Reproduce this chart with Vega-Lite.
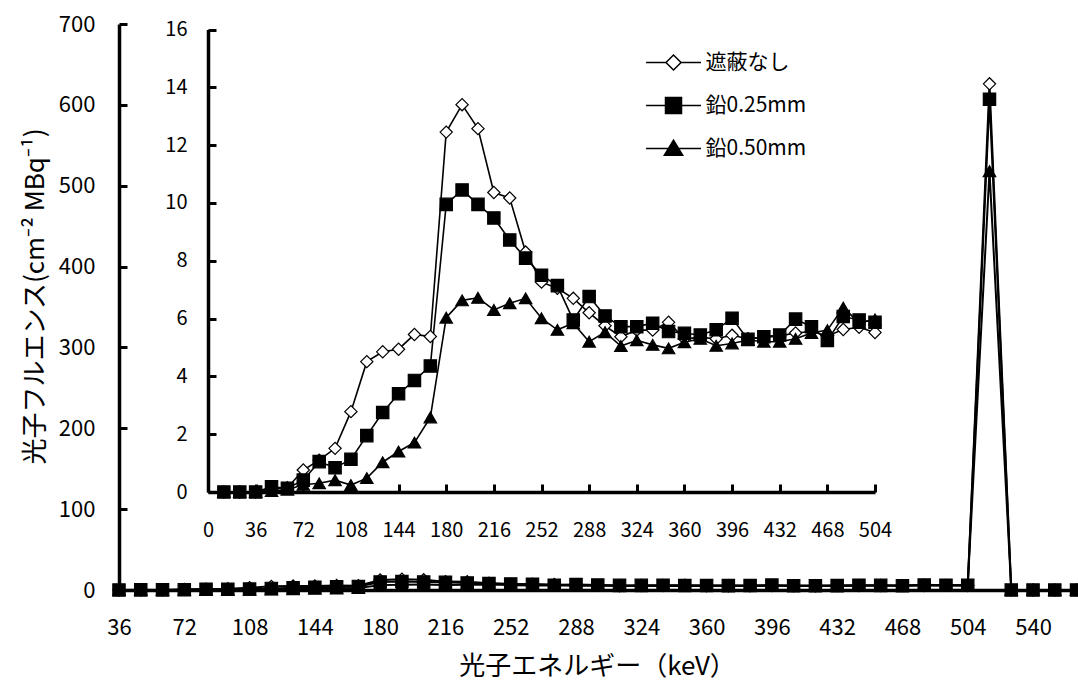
{
"$schema": "https://vega.github.io/schema/vega-lite/v6.json",
"width": 959,
"height": 566,
"autosize": {"type": "none"},
"padding": {"left": 119, "top": 24, "right": 0, "bottom": 92},
"background": "white",
"config": {
  "view": {"stroke": null},
  "font": "Noto Sans CJK JP",
  "axis": {"domainColor": "black", "tickColor": "black", "labelColor": "black", "titleColor": "black", "grid": false,
    "labelFont": "Noto Sans CJK JP", "titleFont": "Noto Sans CJK JP", "titleFontWeight": "normal",
    "domainWidth": 3.5, "tickWidth": 3, "labelFlush": false, "labelOverlap": false}
},
"data": {"values": [
{"e":12,"s":"遮蔽なし","v":0},{"e":24,"s":"遮蔽なし","v":0},{"e":36,"s":"遮蔽なし","v":0},{"e":48,"s":"遮蔽なし","v":0.1},{"e":60,"s":"遮蔽なし","v":0.15},{"e":72,"s":"遮蔽なし","v":0.76},{"e":84,"s":"遮蔽なし","v":1.1},{"e":96,"s":"遮蔽なし","v":1.51},{"e":108,"s":"遮蔽なし","v":2.78},{"e":120,"s":"遮蔽なし","v":4.51},{"e":132,"s":"遮蔽なし","v":4.85},{"e":144,"s":"遮蔽なし","v":4.94},{"e":156,"s":"遮蔽なし","v":5.45},{"e":168,"s":"遮蔽なし","v":5.38},{"e":180,"s":"遮蔽なし","v":12.45},{"e":192,"s":"遮蔽なし","v":13.4},{"e":204,"s":"遮蔽なし","v":12.57},{"e":216,"s":"遮蔽なし","v":10.36},{"e":228,"s":"遮蔽なし","v":10.17},{"e":240,"s":"遮蔽なし","v":8.3},{"e":252,"s":"遮蔽なし","v":7.26},{"e":264,"s":"遮蔽なし","v":7.05},{"e":276,"s":"遮蔽なし","v":6.7},{"e":288,"s":"遮蔽なし","v":6.2},{"e":300,"s":"遮蔽なし","v":5.75},{"e":312,"s":"遮蔽なし","v":5.37},{"e":324,"s":"遮蔽なし","v":5.6},{"e":336,"s":"遮蔽なし","v":5.6},{"e":348,"s":"遮蔽なし","v":5.87},{"e":360,"s":"遮蔽なし","v":5.3},{"e":372,"s":"遮蔽なし","v":5.35},{"e":384,"s":"遮蔽なし","v":5.3},{"e":396,"s":"遮蔽なし","v":5.42},{"e":408,"s":"遮蔽なし","v":5.3},{"e":420,"s":"遮蔽なし","v":5.35},{"e":432,"s":"遮蔽なし","v":5.4},{"e":444,"s":"遮蔽なし","v":5.5},{"e":456,"s":"遮蔽なし","v":5.55},{"e":468,"s":"遮蔽なし","v":5.4},{"e":480,"s":"遮蔽なし","v":5.62},{"e":492,"s":"遮蔽なし","v":5.7},{"e":504,"s":"遮蔽なし","v":5.52},{"e":516,"s":"遮蔽なし","v":626},{"e":528,"s":"遮蔽なし","v":0},{"e":540,"s":"遮蔽なし","v":0},{"e":552,"s":"遮蔽なし","v":0},{"e":564,"s":"遮蔽なし","v":0},
{"e":12,"s":"鉛0.25mm","v":0},{"e":24,"s":"鉛0.25mm","v":0},{"e":36,"s":"鉛0.25mm","v":0},{"e":48,"s":"鉛0.25mm","v":0.18},{"e":60,"s":"鉛0.25mm","v":0.13},{"e":72,"s":"鉛0.25mm","v":0.41},{"e":84,"s":"鉛0.25mm","v":1.05},{"e":96,"s":"鉛0.25mm","v":0.84},{"e":108,"s":"鉛0.25mm","v":1.13},{"e":120,"s":"鉛0.25mm","v":1.95},{"e":132,"s":"鉛0.25mm","v":2.75},{"e":144,"s":"鉛0.25mm","v":3.4},{"e":156,"s":"鉛0.25mm","v":3.86},{"e":168,"s":"鉛0.25mm","v":4.36},{"e":180,"s":"鉛0.25mm","v":9.95},{"e":192,"s":"鉛0.25mm","v":10.45},{"e":204,"s":"鉛0.25mm","v":9.95},{"e":216,"s":"鉛0.25mm","v":9.48},{"e":228,"s":"鉛0.25mm","v":8.72},{"e":240,"s":"鉛0.25mm","v":8.09},{"e":252,"s":"鉛0.25mm","v":7.5},{"e":264,"s":"鉛0.25mm","v":7.14},{"e":276,"s":"鉛0.25mm","v":5.95},{"e":288,"s":"鉛0.25mm","v":6.76},{"e":300,"s":"鉛0.25mm","v":6.09},{"e":312,"s":"鉛0.25mm","v":5.72},{"e":324,"s":"鉛0.25mm","v":5.72},{"e":336,"s":"鉛0.25mm","v":5.84},{"e":348,"s":"鉛0.25mm","v":5.55},{"e":360,"s":"鉛0.25mm","v":5.49},{"e":372,"s":"鉛0.25mm","v":5.43},{"e":384,"s":"鉛0.25mm","v":5.61},{"e":396,"s":"鉛0.25mm","v":6.01},{"e":408,"s":"鉛0.25mm","v":5.28},{"e":420,"s":"鉛0.25mm","v":5.37},{"e":432,"s":"鉛0.25mm","v":5.43},{"e":444,"s":"鉛0.25mm","v":5.98},{"e":456,"s":"鉛0.25mm","v":5.72},{"e":468,"s":"鉛0.25mm","v":5.24},{"e":480,"s":"鉛0.25mm","v":6.07},{"e":492,"s":"鉛0.25mm","v":5.95},{"e":504,"s":"鉛0.25mm","v":5.87},{"e":516,"s":"鉛0.25mm","v":607},{"e":528,"s":"鉛0.25mm","v":0},{"e":540,"s":"鉛0.25mm","v":0},{"e":552,"s":"鉛0.25mm","v":0},{"e":564,"s":"鉛0.25mm","v":0},
{"e":12,"s":"鉛0.50mm","v":0},{"e":24,"s":"鉛0.50mm","v":0},{"e":36,"s":"鉛0.50mm","v":0},{"e":48,"s":"鉛0.50mm","v":0.03},{"e":60,"s":"鉛0.50mm","v":0.08},{"e":72,"s":"鉛0.50mm","v":0.25},{"e":84,"s":"鉛0.50mm","v":0.3},{"e":96,"s":"鉛0.50mm","v":0.41},{"e":108,"s":"鉛0.50mm","v":0.24},{"e":120,"s":"鉛0.50mm","v":0.48},{"e":132,"s":"鉛0.50mm","v":1.03},{"e":144,"s":"鉛0.50mm","v":1.4},{"e":156,"s":"鉛0.50mm","v":1.71},{"e":168,"s":"鉛0.50mm","v":2.58},{"e":180,"s":"鉛0.50mm","v":6.03},{"e":192,"s":"鉛0.50mm","v":6.63},{"e":204,"s":"鉛0.50mm","v":6.72},{"e":216,"s":"鉛0.50mm","v":6.3},{"e":228,"s":"鉛0.50mm","v":6.53},{"e":240,"s":"鉛0.50mm","v":6.7},{"e":252,"s":"鉛0.50mm","v":6.01},{"e":264,"s":"鉛0.50mm","v":5.61},{"e":276,"s":"鉛0.50mm","v":5.84},{"e":288,"s":"鉛0.50mm","v":5.2},{"e":300,"s":"鉛0.50mm","v":5.53},{"e":312,"s":"鉛0.50mm","v":5.05},{"e":324,"s":"鉛0.50mm","v":5.25},{"e":336,"s":"鉛0.50mm","v":5.09},{"e":348,"s":"鉛0.50mm","v":4.97},{"e":360,"s":"鉛0.50mm","v":5.18},{"e":372,"s":"鉛0.50mm","v":5.3},{"e":384,"s":"鉛0.50mm","v":5.06},{"e":396,"s":"鉛0.50mm","v":5.14},{"e":408,"s":"鉛0.50mm","v":5.26},{"e":420,"s":"鉛0.50mm","v":5.2},{"e":432,"s":"鉛0.50mm","v":5.2},{"e":444,"s":"鉛0.50mm","v":5.3},{"e":456,"s":"鉛0.50mm","v":5.5},{"e":468,"s":"鉛0.50mm","v":5.6},{"e":480,"s":"鉛0.50mm","v":6.38},{"e":492,"s":"鉛0.50mm","v":5.85},{"e":504,"s":"鉛0.50mm","v":5.97},{"e":516,"s":"鉛0.50mm","v":518},{"e":528,"s":"鉛0.50mm","v":0},{"e":540,"s":"鉛0.50mm","v":0},{"e":552,"s":"鉛0.50mm","v":0},{"e":564,"s":"鉛0.50mm","v":0}
]},
"layer": [
  {
    "transform": [{"filter": "datum.e >= 36"}],
    "encoding": {
      "x": {"field": "e", "type": "quantitative",
        "scale": {"domain": [36, 564.8], "nice": false, "zero": false},
        "axis": {"orient": "bottom", "values": [36,72,108,144,180,216,252,288,324,360,396,432,468,504,540],
          "ticks": false, "domainWidth": 3.5, "labelPadding": 37, "labelBaseline": "middle", "labelFontSize": 22,
          "title": "光子エネルギー（keV）", "titleFontSize": 26, "titleX": 478, "titleY": 76,
          "titleBaseline": "middle", "titleAlign": "center"}},
      "y": {"field": "v", "type": "quantitative",
        "scale": {"domain": [0, 700], "nice": false},
        "axis": {"orient": "left", "values": [0,100,200,300,400,500,600,700], "domainWidth": 3.5, "tickWidth": 3,
          "tickSize": -8, "labelPadding": 32, "labelFontSize": 22, "labelBaseline": "middle",
          "title": "光子フルエンス(cm⁻² MBq⁻¹)", "titleFontSize": 26, "titleX": -84, "titleY": 272,
          "titleAngle": -90, "titleBaseline": "middle", "titleAlign": "center"}}
    },
    "layer": [
      {"mark": {"type": "line", "color": "black", "strokeWidth": 2},
       "encoding": {"detail": {"field": "s", "type": "nominal"}}},
      {"mark": {"type": "point", "opacity": 1, "stroke": "black", "strokeWidth": 1.2},
       "encoding": {
         "shape": {"field": "s", "type": "nominal", "scale": {"domain": ["遮蔽なし","鉛0.25mm","鉛0.50mm"], "range": ["diamond","square","triangle-up"]}, "legend": null},
         "fill": {"field": "s", "type": "nominal", "scale": {"domain": ["遮蔽なし","鉛0.25mm","鉛0.50mm"], "range": ["white","black","black"]}, "legend": null},
         "size": {"field": "s", "type": "nominal", "scale": {"domain": ["遮蔽なし","鉛0.25mm","鉛0.50mm"], "range": [150,155,160]}, "legend": null}
       }}
    ]
  },
  {
    "transform": [{"filter": "datum.e <= 504"}],
    "encoding": {
      "x": {"field": "e", "type": "quantitative",
        "scale": {"domain": [0, 504], "range": [89, 756], "nice": false, "zero": false},
        "axis": {"orient": "bottom", "offset": -98, "values": [0,36,72,108,144,180,216,252,288,324,360,396,432,468,504],
          "domainWidth": 3.5, "tickWidth": 3,
          "tickSize": -8, "labelPadding": 46, "labelBaseline": "middle", "labelFontSize": 20, "title": null}},
      "y": {"field": "v", "type": "quantitative",
        "scale": {"domain": [0, 16], "range": [468, 5.5], "nice": false},
        "axis": {"orient": "left", "offset": -89, "values": [0,2,4,6,8,10,12,14,16],
          "domainWidth": 3.5, "tickWidth": 3,
          "tickSize": -8, "labelPadding": 29, "labelFontSize": 20, "labelBaseline": "middle", "title": null}}
    },
    "layer": [
      {"mark": {"type": "line", "color": "black", "strokeWidth": 1.6},
       "encoding": {"detail": {"field": "s", "type": "nominal"}}},
      {"mark": {"type": "point", "opacity": 1, "stroke": "black", "strokeWidth": 1.2},
       "encoding": {
         "shape": {"field": "s", "type": "nominal", "scale": {"domain": ["遮蔽なし","鉛0.25mm","鉛0.50mm"], "range": ["diamond","square","triangle-up"]}, "legend": null},
         "fill": {"field": "s", "type": "nominal", "scale": {"domain": ["遮蔽なし","鉛0.25mm","鉛0.50mm"], "range": ["white","black","black"]}, "legend": null},
         "size": {"field": "s", "type": "nominal", "scale": {"domain": ["遮蔽なし","鉛0.25mm","鉛0.50mm"], "range": [150,155,160]}, "legend": null}
       }}
    ]
  },
  {
    "mark": {"type": "point", "opacity": 0, "stroke": "black", "strokeWidth": 1.5},
    "encoding": {
      "shape": {"field": "s", "type": "nominal",
        "scale": {"domain": ["遮蔽なし","鉛0.25mm","鉛0.50mm"],
          "range": ["M-3.44,0L-0.94,0M0.94,0L3.44,0M-0.94,0L0,-0.94L0.94,0L0,0.94Z",
                    "M-3.44,0L3.44,0M-1,-1L1,-1L1,1L-1,1Z",
                    "M-3.44,0L3.44,0M0,-1.05L1.15,0.85L-1.15,0.85Z"]},
        "legend": {"title": null, "orient": "none", "legendX": 524.5, "legendY": 28, "symbolSize": 256, "symbolOffset": 19.5,
          "labelOffset": 21.5, "labelFontSize": 21, "labelFont": "Noto Sans CJK JP", "labelColor": "black", "rowPadding": 20,
          "padding": 0, "symbolStrokeWidth": 1.5, "symbolStrokeColor": "black", "labelLimit": 300, "symbolOpacity": 1,
          "encode": {"symbols": {"update": {"stroke": {"value": "black"}, "strokeWidth": {"value": 1.5}, "opacity": {"value": 1}, "strokeOpacity": {"value": 1}}}}}},
      "fill": {"field": "s", "type": "nominal",
        "scale": {"domain": ["遮蔽なし","鉛0.25mm","鉛0.50mm"], "range": ["white","black","black"]},
        "legend": {"title": null, "orient": "none", "legendX": 524.5, "legendY": 28, "symbolSize": 256, "symbolOffset": 19.5,
          "labelOffset": 21.5, "labelFontSize": 21, "labelFont": "Noto Sans CJK JP", "labelColor": "black", "rowPadding": 20,
          "padding": 0, "symbolStrokeWidth": 1.5, "symbolStrokeColor": "black", "labelLimit": 300, "symbolOpacity": 1,
          "encode": {"symbols": {"update": {"stroke": {"value": "black"}, "strokeWidth": {"value": 1.5}, "opacity": {"value": 1}, "strokeOpacity": {"value": 1}}}}}}
    }
  }
],
"resolve": {
  "scale": {"x": "independent", "y": "independent", "shape": "independent", "fill": "independent", "size": "independent"},
  "axis": {"x": "independent", "y": "independent"},
  "legend": {"shape": "independent", "fill": "independent", "size": "independent"}
}
}
